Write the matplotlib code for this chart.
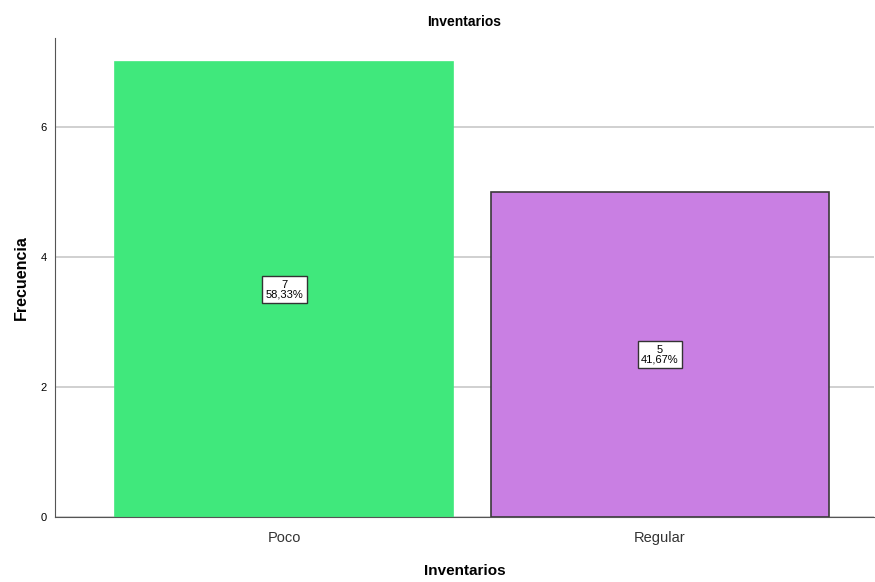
import matplotlib.pyplot as plt

plt.rcParams['font.family'] = ['Liberation Sans', 'DejaVu Sans']

categorias = ['Poco', 'Regular']
frecuencias = [7, 5]
porcentajes = ['58,33%', '41,67%']
colores = ['#40e87c', '#c97fe3']
bordes = ['#40e87c', '#3a3a3a']

fig = plt.figure(figsize=(8.75, 5.82), dpi=100)
ax = fig.add_axes([55/875, 65/582, 819/875, 479/582])

x = list(range(len(categorias)))
ax.set_axisbelow(True)
ax.grid(axis='y', color='#c8c8c8', linewidth=1.2)
ax.bar(x, frecuencias, width=0.9, color=colores, edgecolor=bordes, linewidth=1.2)

for xi, f, p in zip(x, frecuencias, porcentajes):
    ax.text(xi, f / 2, f'{f}\n{p}', ha='center', va='center', fontsize=8,
            linespacing=1.0,
            bbox=dict(boxstyle='square,pad=0.3', facecolor='white',
                      edgecolor='#333333', linewidth=1))

ax.set_xlim(-0.611, 1.57)
ax.set_ylim(0, 7.37)
ax.set_yticks([0, 2, 4, 6])
ax.set_xticks(x)
ax.set_xticklabels(categorias, fontsize=10.5, color='#333333')
ax.tick_params(axis='y', labelsize=8, length=0, pad=6)
ax.tick_params(axis='x', length=0, pad=10)
for s in ['top', 'right']:
    ax.spines[s].set_visible(False)
for s in ['left', 'bottom']:
    ax.spines[s].set_color('#555555')

ax.set_title('Inventarios', fontsize=10, fontweight='bold', pad=9)
ax.set_xlabel('Inventarios', fontsize=11, fontweight='bold', labelpad=14)
ax.set_ylabel('Frecuencia', fontsize=11.5, fontweight='bold', labelpad=8)

fig.savefig('out.png', dpi=100)
